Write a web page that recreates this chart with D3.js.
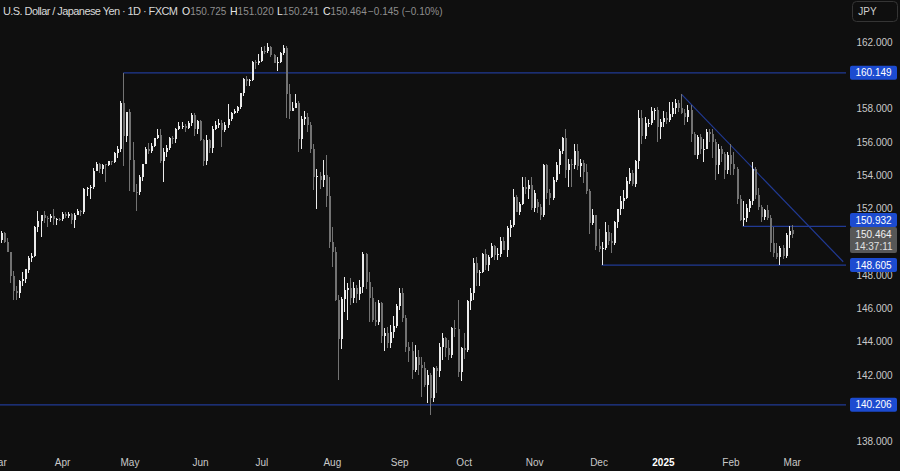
<!DOCTYPE html>
<html>
<head>
<meta charset="utf-8">
<script src="https://cdn.jsdelivr.net/npm/d3@7"></script>
<style>
  html, body { margin: 0; padding: 0; background: #0f0f0f; }
  svg { display: block; }
  text { font-family: "Liberation Sans", Arial, sans-serif; }
</style>
</head>
<body>
<svg id="chart" width="900" height="471"></svg>
<script>
// ---------------- DATA (daily OHLC, USD/JPY, FXCM) ----------------
// each row: [open, high, low, close]
const mar2024 = [
[149.98,150.68,149.78,150.11],[150.08,150.67,149.95,150.53],[150.52,150.60,149.93,150.00],
[150.00,150.22,149.37,149.38],[149.38,149.40,147.55,147.97],[147.97,148.26,146.48,147.05],
[147.05,147.35,146.48,146.94],[146.94,147.73,146.62,147.67],[147.67,148.17,147.37,147.77],
[147.77,148.35,147.54,148.34],[148.33,149.16,148.13,149.03],[149.04,149.34,148.81,149.16],
[149.13,150.95,149.09,150.87],[150.87,151.82,150.57,151.22],[151.22,151.43,150.27,151.59],
[151.59,151.86,151.11,151.43],[151.42,151.52,150.89,151.41],[151.41,151.69,151.16,151.53],
[151.53,151.97,151.02,151.34],[151.34,151.44,151.01,151.37],[151.37,151.43,151.23,151.35]
];
const apr2024 = [
[151.35,151.78,151.24,151.65],[151.65,151.77,151.41,151.56],[151.56,151.80,151.41,151.69],
[151.69,151.72,151.04,151.31],[151.31,151.74,150.81,151.62],[151.62,151.94,151.58,151.87],
[151.87,151.91,151.56,151.76],[151.76,153.24,151.68,153.16],[153.16,153.32,152.75,153.26],
[153.26,153.39,152.60,153.27],[153.27,154.45,153.20,154.24],[154.24,154.79,154.23,154.67],
[154.67,154.75,154.12,154.38],[154.38,154.70,154.09,154.64],[154.66,154.67,153.60,154.62],
[154.62,154.86,154.56,154.83],[154.83,154.88,154.61,154.81],[154.81,155.39,154.73,155.34],
[155.34,155.74,155.04,155.60],[155.60,158.44,155.37,158.33],[158.33,160.149,154.54,156.33],
[156.33,157.80,155.97,157.79]
];
const may2024 = [
[157.79,157.99,153.04,154.90],[154.90,156.00,152.99,153.00],[153.00,153.50,151.86,152.97],
[152.97,154.00,152.82,153.90],[153.90,154.70,153.64,154.67],[154.67,155.67,154.65,155.56],
[155.56,155.95,155.28,155.46],[155.46,155.95,155.35,155.77],[155.77,156.24,155.70,156.21],
[156.21,156.76,156.19,156.40],[156.40,156.75,154.71,154.87],[154.87,155.65,153.60,155.40],
[155.40,155.84,155.09,155.66],[155.66,156.27,155.53,156.26],[156.26,156.33,155.86,156.18],
[156.18,156.84,155.92,156.79],[156.79,157.20,156.72,156.97],[156.97,157.19,156.78,156.98],
[156.98,157.07,156.61,156.86],[156.86,157.27,156.77,157.15],[157.15,157.71,156.98,157.63],
[157.63,157.71,156.38,156.75],[156.75,157.30,156.50,157.28]
];
const jun2024 = [
[157.28,157.34,156.04,156.11],[156.11,156.20,154.55,154.84],[154.84,156.44,154.63,156.11],
[156.11,156.19,155.33,155.62],[155.62,156.98,155.33,156.75],[156.75,157.25,156.71,157.03],
[157.03,157.35,156.85,157.16],[157.16,157.30,155.72,156.69],[156.69,157.21,156.59,157.04],
[157.04,158.26,156.84,157.37],[157.37,157.78,157.26,157.72],[157.72,157.97,157.68,157.86],
[157.86,158.13,157.73,158.10],[158.10,158.95,157.96,158.91],[158.91,159.83,158.75,159.79],
[159.79,159.93,159.37,159.67],[159.67,159.79,159.38,159.70],[159.70,160.87,159.68,160.77],
[160.77,160.89,160.39,160.72],[160.72,161.27,160.59,160.86]
];
const jul2024 = [
[160.86,161.72,160.82,161.47],[161.47,161.75,161.26,161.45],[161.45,161.95,161.31,161.71],
[161.71,161.73,161.07,161.23],[161.23,161.30,160.73,160.75],[160.75,161.08,160.27,160.82],
[160.82,161.37,160.72,161.33],[161.33,161.81,161.23,161.64],[161.64,161.76,157.44,158.86],
[158.86,159.45,157.38,157.84],[157.84,158.40,157.84,158.06],[158.06,158.87,158.02,158.35],
[158.35,158.45,155.37,156.19],[156.19,157.54,155.60,157.40],[157.40,157.86,157.00,157.49],
[157.49,157.76,156.62,157.03],[157.03,157.20,155.33,155.58],[155.58,155.87,153.10,153.90],
[153.90,154.38,151.94,153.94],[153.94,154.22,153.19,153.71],[153.71,154.90,153.29,154.00],
[154.00,155.22,152.08,152.75],[152.75,153.88,149.62,149.98]
];
const aug2024 = [
[149.98,150.88,148.51,149.36],[149.36,149.68,146.42,146.53],[146.53,146.79,141.70,144.18],
[144.18,146.70,143.59,146.55],[146.55,147.90,145.80,147.10],[147.10,147.50,145.30,147.25],
[147.25,147.80,146.20,146.60],[146.60,147.60,146.30,147.20],[147.20,147.40,146.30,146.85],
[146.85,147.70,146.50,147.30],[147.30,149.38,146.90,149.25],[149.25,149.30,147.19,147.60],
[147.60,148.20,145.20,146.60],[146.60,147.30,145.20,145.30],[145.30,146.40,144.95,145.20],
[145.20,146.50,145.00,146.30],[146.30,146.40,143.95,144.35],[144.35,144.80,143.45,144.50],
[144.50,144.90,143.60,143.95],[143.95,145.00,143.60,144.60],[144.60,145.55,144.20,144.95],
[144.95,146.25,144.80,146.15]
];
const sep2024 = [
[146.15,147.21,145.90,146.90],[146.90,147.20,145.20,145.45],[145.45,145.60,143.40,143.70],
[143.70,144.00,142.80,143.45],[143.45,144.00,141.75,142.30],[142.30,143.80,142.20,143.10],
[143.10,143.50,142.00,142.60],[142.60,143.10,140.70,142.40],[142.40,142.80,141.30,141.40],
[141.40,142.30,140.30,142.00],[142.00,142.10,139.58,140.60],[140.60,142.50,140.40,142.40],
[142.40,142.55,140.90,142.25],[142.25,143.95,141.90,143.70],[143.70,144.50,142.90,144.20],
[144.20,144.30,143.10,143.60],[143.60,144.10,142.90,143.20],[143.20,144.90,143.00,144.80],
[144.80,145.30,144.30,144.75],[144.75,146.50,141.90,142.20],[142.20,143.70,141.65,143.60]
];
const oct2024 = [
[143.60,144.50,142.97,143.50],[143.50,146.50,143.40,146.45],[146.45,147.25,145.90,146.90],
[146.90,149.00,146.50,148.70],[148.70,149.10,147.35,148.15],[148.15,148.30,147.35,148.20],
[148.20,149.30,148.10,149.25],[149.25,149.55,148.30,148.60],[148.60,149.20,148.25,149.10],
[149.10,149.95,149.00,149.75],[149.75,149.80,148.90,149.20],[149.20,149.60,148.90,149.25],
[149.25,150.30,149.10,150.05],[150.05,150.30,149.50,149.50],[149.50,150.95,149.10,150.85],
[150.85,151.30,150.30,151.00],[151.00,153.20,150.90,152.70],[152.70,152.80,151.80,151.80],
[151.80,152.40,151.60,152.30],[152.30,153.90,152.20,153.30],[153.30,153.90,152.90,153.20],
[153.20,153.70,152.60,153.40],[153.40,153.90,151.90,152.05]
];
const nov2024 = [
[152.05,153.10,151.80,152.95],[152.40,152.60,151.75,152.10],[152.10,152.25,151.30,151.60],
[151.60,154.70,151.50,154.60],[154.60,154.70,152.60,152.95],[152.95,153.20,152.20,152.65],
[152.65,153.90,152.50,153.70],[153.70,154.80,153.60,154.60],[154.60,155.60,154.10,155.45],
[155.45,156.30,155.30,156.25],[156.25,156.75,153.85,154.30],[154.30,155.00,153.30,154.65],
[154.65,155.00,153.30,154.60],[154.60,155.90,154.40,155.45],[155.45,155.90,154.30,154.55],
[154.55,155.00,153.90,154.75],[154.75,154.90,153.55,154.20],[154.20,154.70,152.90,153.05],
[153.05,153.20,150.45,151.10],[151.10,151.95,151.00,151.60],[151.60,151.60,149.50,149.75]
];
const dec2024 = [
[149.75,150.75,149.40,149.55],[149.55,150.00,148.605,149.62],[149.62,151.20,149.50,150.60],
[150.60,151.00,149.80,150.05],[150.05,150.55,149.35,149.95],[149.95,151.25,149.80,151.20],
[151.20,151.95,150.80,151.95],[151.95,152.75,151.60,152.45],[152.45,153.10,152.00,152.65],
[152.65,153.90,152.60,153.65],[153.65,154.45,153.50,154.15],[154.15,154.30,153.35,153.50],
[153.50,154.90,153.30,154.85],[154.85,157.90,154.40,157.45],[157.45,157.90,155.90,156.35],
[156.35,157.50,156.20,157.15],[157.15,157.35,156.90,157.15],[157.15,158.10,157.00,157.85],
[157.85,158.05,157.30,157.90],[157.90,158.10,156.00,156.90],[156.90,157.40,156.20,157.20]
];
const jan2025 = [
[157.20,157.85,156.90,157.45],[157.45,157.80,157.10,157.30],[157.30,158.40,157.20,157.65],
[157.65,158.40,157.50,158.05],[158.05,158.55,157.70,158.35],[158.35,158.50,157.80,158.05],
[158.05,158.87,157.70,157.75],[157.75,158.00,157.00,157.50],[157.50,158.20,157.20,157.90],
[157.90,158.20,156.00,156.50],[156.50,156.60,155.20,155.20],[155.20,156.40,155.00,156.30],
[156.30,156.50,155.30,155.60],[155.60,156.20,154.80,155.60],[155.60,156.75,155.60,156.60],
[156.60,156.80,156.00,156.50],[156.50,156.80,155.05,156.00],[156.00,156.20,153.70,154.60],
[154.60,155.90,154.10,155.55],[155.55,155.75,154.80,155.25],[155.25,155.40,153.80,154.30],
[154.30,155.40,154.10,155.20]
];
const feb2025 = [
[155.20,155.90,154.00,154.70],[154.70,155.40,154.00,154.35],[154.35,154.50,152.30,152.60],
[152.60,152.80,151.25,151.30],[151.30,152.45,150.932,151.45],[151.45,152.30,151.20,152.05],
[152.05,152.60,151.80,152.45],[152.45,154.80,152.20,154.40],[154.40,154.50,152.60,152.80],
[152.80,153.25,151.90,152.10],[152.10,152.20,151.20,151.50],[151.50,152.00,151.30,151.90],
[151.90,152.20,151.30,151.45],[151.45,151.60,149.40,149.90],[149.90,150.90,149.10,149.35],
[149.35,149.90,148.95,149.10],[149.10,149.75,148.60,149.65],[149.65,149.80,148.95,149.15],
[149.15,150.55,149.00,150.40],[150.40,150.95,149.60,150.65]
];
const mar2025 = [
[150.725,151.020,150.241,150.464]
];

// Month categories (tick labels on the time axis)
const monthYears  = [2024,2024,2024,2024,2024,2024,2024,2024,2024,2024,2025,2025,2025];
const monthNums   = [3,4,5,6,7,8,9,10,11,12,1,2,3];
const monthLabels = ["Mar","Apr","May","Jun","Jul","Aug","Sep","Oct","Nov","Dec","2025","Feb","Mar"];
const monthData   = [mar2024,apr2024,may2024,jun2024,jul2024,aug2024,sep2024,oct2024,nov2024,dec2024,jan2025,feb2025,mar2025];
const marketHolidays = ["2024-12-25","2025-01-01"];

// Price axis ticks
const priceTicks = [138,140,142,144,146,148,150,152,154,156,158,160,162];

// Drawn levels (price, starting date) and trend line
const levelPrices = [160.149, 150.932, 148.605, 140.206];
const levelStarts = ["2024-04-29", "2025-02-07", "2024-12-03", null];
const trendStart = { date: "2025-01-10", price: 158.87 };
const trendEnd   = { barsAfterLast: 16.8, price: 148.80 };

// Header / last values
const titleText = "U.S. Dollar / Japanese Yen · 1D · FXCM";
const ohlcKeys = ["O", "H", "L", "C"];
const ohlcValues = ["150.725", "151.020", "150.241", "150.464"];
const lastChange = "−0.145 (−0.10%)";
const lastPrice = 150.464;
const countdown = "14:37:11";
const currency = "JPY";

// ---------------- BUILD ----------------
function tradingDays(year, month) {
  const out = [];
  const d = new Date(Date.UTC(year, month - 1, 1));
  while (d.getUTCMonth() === month - 1) {
    const wd = d.getUTCDay();
    const iso = d.toISOString().slice(0, 10);
    if (wd !== 0 && wd !== 6 && !marketHolidays.includes(iso)) out.push(iso);
    d.setUTCDate(d.getUTCDate() + 1);
  }
  return out;
}

const candles = [];
const monthFirstIdx = [];
monthData.forEach((rows, mi) => {
  const days = tradingDays(monthYears[mi], monthNums[mi]);
  monthFirstIdx.push(candles.length);
  rows.forEach((r, k) => {
    candles.push({ i: candles.length, date: days[k], o: r[0], h: r[1], l: r[2], c: r[3] });
  });
});
const lastIdx = candles.length - 1;
const idxOf = date => candles.findIndex(c => c.date === date);

const W = 900, H = 471;
const plotRight = 846;
const svg = d3.select("#chart");
svg.append("rect").attr("width", W).attr("height", H).attr("fill", "#0f0f0f");

const x = d3.scaleLinear().domain([0, lastIdx]).range([-2.4, 791.7]);
const y = d3.scaleLinear().domain([138, 162]).range([441.6, 42]);

const upColor = "#ececec", downColor = "#737373";
const lineColor = "#213a94";
const labelBlue = "#1c4bd0";

svg.append("clipPath").attr("id", "plotClip")
  .append("rect").attr("x", 0).attr("y", 0).attr("width", plotRight).attr("height", 450);

const plot = svg.append("g").attr("clip-path", "url(#plotClip)");

// Level lines
levelPrices.forEach((p, k) => {
  const x0 = levelStarts[k] ? x(idxOf(levelStarts[k])) : 0;
  plot.append("line")
    .attr("x1", x0).attr("x2", plotRight + 4)
    .attr("y1", y(p)).attr("y2", y(p))
    .attr("stroke", lineColor).attr("stroke-width", 1.3);
});
// Trend line
plot.append("line")
  .attr("x1", x(idxOf(trendStart.date))).attr("y1", y(trendStart.price))
  .attr("x2", x(lastIdx + trendEnd.barsAfterLast)).attr("y2", y(trendEnd.price))
  .attr("stroke", lineColor).attr("stroke-width", 1.2);

// Candles
const cg = plot.append("g").attr("shape-rendering", "crispEdges");
const sel = cg.selectAll("g.c").data(candles).enter().append("g").attr("class", "c");
sel.append("rect")
  .attr("x", d => Math.round(x(d.i)))
  .attr("width", 1)
  .attr("y", d => y(d.h))
  .attr("height", d => Math.max(1, y(d.l) - y(d.h)))
  .attr("fill", d => d.c >= d.o ? upColor : downColor);
sel.append("rect")
  .attr("x", d => Math.round(x(d.i)) - 0.5)
  .attr("width", 2)
  .attr("y", d => y(Math.max(d.o, d.c)))
  .attr("height", d => Math.max(1, Math.abs(y(d.o) - y(d.c))))
  .attr("fill", d => d.c >= d.o ? upColor : downColor);

// Price labels geometry (used to hide colliding tick labels)
const boxX = 850, boxW = 47, boxH = 14;
const curY = y(lastPrice);
const curTop = curY - 7, curH = 26;
const boxCenters = levelPrices.map(p => {
  let cy = y(p);
  if (cy + boxH / 2 > curTop && cy < curY) cy = curTop - boxH / 2;
  return cy;
});
const hiddenTick = t => {
  const ty = y(t);
  if (ty > curTop - 4 && ty < curTop + curH + 4) return true;
  return boxCenters.some(cy => Math.abs(cy - ty) < 9);
};

// Price axis
const yAxis = d3.axisRight(y).tickValues(priceTicks.filter(t => !hiddenTick(t)))
  .tickSize(0).tickPadding(0).tickFormat(d3.format(".3f"));
const yg = svg.append("g").attr("transform", "translate(874.5,0)").call(yAxis);
yg.select(".domain").remove();
yg.selectAll("text").attr("text-anchor", "middle").attr("fill", "#c9c9c9")
  .style("font-size", "10px").style("font-family", "'Liberation Sans', Arial, sans-serif");

// Time axis
const xAxis = d3.axisBottom(x).tickValues(monthFirstIdx).tickSize(0).tickPadding(0)
  .tickFormat((d, i) => monthLabels[i]);
const xg = svg.append("g").attr("transform", "translate(0,459)").call(xAxis);
xg.select(".domain").remove();
xg.selectAll("text")
  .style("font-size", "10px").style("font-family", "'Liberation Sans', Arial, sans-serif")
  .style("font-weight", (d, i) => monthLabels[i] === "2025" ? "bold" : "normal")
  .attr("fill", (d, i) => monthLabels[i] === "2025" ? "#ffffff" : "#c9c9c9");

// Price label boxes
levelPrices.forEach((p, k) => {
  const cy = boxCenters[k];
  svg.append("rect").attr("x", boxX).attr("y", cy - boxH / 2).attr("width", boxW).attr("height", boxH)
    .attr("rx", 2).attr("fill", labelBlue);
  svg.append("text").attr("x", boxX + boxW / 2).attr("y", cy).attr("dy", "0.35em")
    .attr("text-anchor", "middle").attr("fill", "#ffffff").style("font-size", "10px")
    .text(d3.format(".3f")(p));
});
svg.append("rect").attr("x", boxX).attr("y", curTop).attr("width", boxW).attr("height", curH)
  .attr("rx", 2).attr("fill", "#575757");
svg.append("text").attr("x", boxX + boxW / 2).attr("y", curY).attr("dy", "0.35em")
  .attr("text-anchor", "middle").attr("fill", "#f0f0f0").style("font-size", "10px")
  .text(d3.format(".3f")(lastPrice));
svg.append("text").attr("x", boxX + boxW / 2).attr("y", curY + 12).attr("dy", "0.35em")
  .attr("text-anchor", "middle").attr("fill", "#e0e0e0").style("font-size", "10px")
  .text(countdown);

// Currency box
svg.append("rect").attr("x", 852.5).attr("y", 1.5).attr("width", 45).attr("height", 20)
  .attr("rx", 4).attr("fill", "#0f0f0f").attr("stroke", "#353535");
svg.append("text").attr("x", 867.5).attr("y", 11.5).attr("dy", "0.35em")
  .attr("text-anchor", "middle").attr("fill", "#d0d0d0").style("font-size", "10px").text(currency);

// Header
svg.append("text").attr("x", 3).attr("y", 11).attr("dy", "0.35em")
  .attr("textLength", 175).attr("lengthAdjust", "spacing")
  .attr("fill", "#d8d8d8").style("font-size", "11px").text(titleText);
const valColor = "#8e8e8e";
const ohlcX = [182, 230, 277, 323];
ohlcKeys.forEach((k, n) => {
  const t = svg.append("text").attr("x", ohlcX[n]).attr("y", 11).attr("dy", "0.35em")
    .style("font-size", "10.5px");
  t.append("tspan").attr("fill", "#e6e6e6").text(k);
  t.append("tspan").attr("fill", valColor).style("font-size", "10px").text(ohlcValues[n]);
});
svg.append("text").attr("x", 368).attr("y", 11).attr("dy", "0.35em")
  .attr("fill", valColor).style("font-size", "10px").text(lastChange);
</script>
</body>
</html>
